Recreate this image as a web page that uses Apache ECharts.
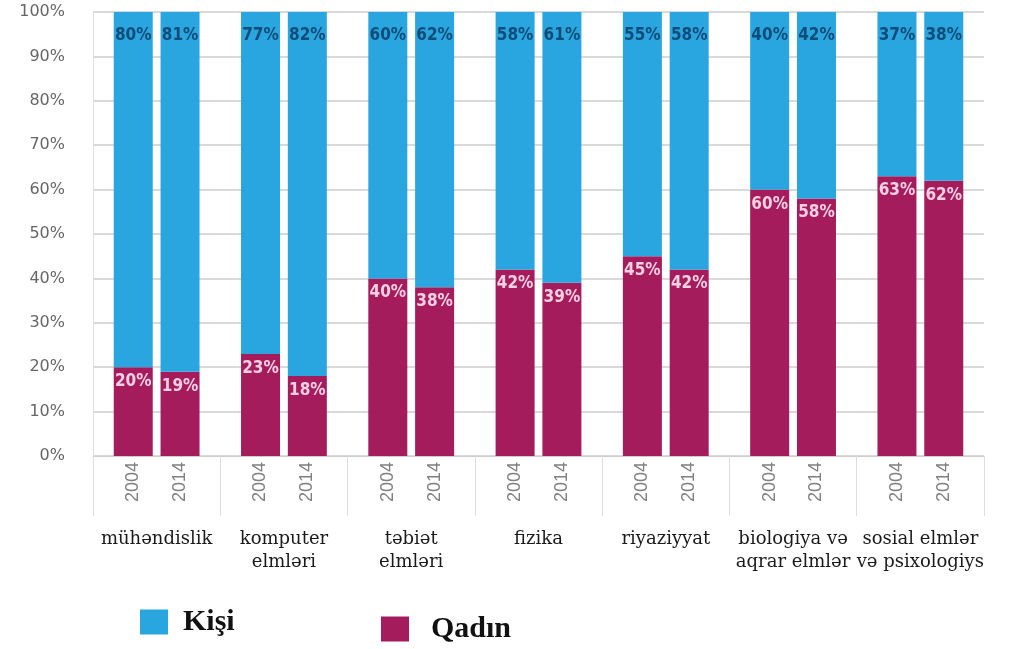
<!DOCTYPE html>
<html>
	<head>
		<meta charset="utf-8" />
		<title></title>
		<script src="https://cdn.jsdelivr.net/npm/echarts@6/dist/echarts.min.js"></script>
		<style>
			html, body { margin: 0; padding: 0; background: #fff; }
		</style>
	</head>
	<body>
		<div id="chart" style="width: 1029px; height: 649px;"></div>
		<script>
		// sahələr
		var categories = ['mühəndislik', 'komputer\nelmləri', 'təbiət\nelmləri', 'fizika', 'riyaziyyat', 'biologiya və\naqrar elmlər', 'sosial elmlər\nvə psixologiys'];
		var years = ['2004', '2014'];
		var qadin2004 = [20, 23, 40, 42, 45, 60, 63];
		var qadin2014 = [19, 18, 38, 39, 42, 58, 62];
		var kisi2004 = [80, 77, 60, 58, 55, 40, 37];
		var kisi2014 = [81, 82, 62, 61, 58, 42, 38];
		var yTicks = [0, 100, 10];

		var blue = '#29a6df';
		var purple = '#a51c5c';

		var myChart = echarts.init(document.getElementById('chart'));

		// il yazısı üçün boş (0) sütun
		function yearSeries(year, stack) {
			return {
				name: year,
				type: 'bar',
				stack: stack,
				barWidth: 39,
				barGap: '20%',
				itemStyle: { color: 'rgba(0,0,0,0)' },
				label: {
					show: true,
					position: 'bottom',
					distance: 6,
					rotate: 90,
					align: 'right',
					verticalAlign: 'middle',
					formatter: year,
					color: '#808080',
					fontFamily: 'Liberation Sans',
					fontSize: 18
				},
				silent: true,
				data: categories.map(function () { return 0; })
			};
		}

		function pctSeries(name, stack, data, color, labelColor, dist) {
			return {
				name: name,
				type: 'bar',
				stack: stack,
				barWidth: 39,
				barGap: '20%',
				itemStyle: { color: color },
				label: {
					show: true,
					position: 'insideTop',
					distance: dist,
					formatter: '{c}%',
					color: labelColor,
					fontFamily: 'DejaVu Sans Condensed',
					fontWeight: 'bold',
					fontSize: 17
				},
				data: data
			};
		}

		var option = {
			animation: false,
			grid: { left: 93, right: 45, top: 12, bottom: 193 },
			legend: [
				{
					left: 135, top: 602,
					itemWidth: 28, itemHeight: 25,
					icon: 'rect',
					data: ['Kişi'],
					textStyle: { fontFamily: 'Liberation Serif', fontWeight: 'bold', fontSize: 30, color: '#111', padding: [0, 0, 0, 10] }
				},
				{
					left: 376, top: 609,
					itemWidth: 28, itemHeight: 25,
					icon: 'rect',
					data: ['Qadın'],
					textStyle: { fontFamily: 'Liberation Serif', fontWeight: 'bold', fontSize: 30, color: '#111', padding: [0, 0, 0, 17] }
				}
			],
			xAxis: {
				type: 'category',
				data: categories,
				axisLine: { lineStyle: { color: '#ccc', width: 1 } },
				axisTick: { show: true, interval: 0, length: 60, lineStyle: { color: '#ddd' } },
				axisLabel: {
					interval: 0,
					hideOverlap: false,
					margin: 72,
					fontFamily: 'DejaVu Serif',
					fontSize: 18,
					lineHeight: 23,
					color: '#1a1a1a'
				}
			},
			yAxis: {
				type: 'value',
				min: yTicks[0],
				max: yTicks[1],
				interval: yTicks[2],
				axisLine: { show: true, lineStyle: { color: '#ddd' } },
				axisTick: { show: false },
				splitLine: { lineStyle: { color: '#ccc', width: 1.5 } },
				axisLabel: {
					formatter: '{value}%',
					margin: 28,
					color: '#666',
					fontFamily: 'DejaVu Sans',
					fontSize: 16
				}
			},
			series: [
				yearSeries(years[0], 'a'),
				pctSeries('Qadın', 'a', qadin2004, purple, '#f5d0e3', 6),
				pctSeries('Kişi', 'a', kisi2004, blue, '#0f4c78', 15),
				yearSeries(years[1], 'b'),
				pctSeries('Qadın', 'b', qadin2014, purple, '#f5d0e3', 6),
				pctSeries('Kişi', 'b', kisi2014, blue, '#0f4c78', 15)
			]
		};
		myChart.setOption(option);
		</script>
	</body>
</html>
